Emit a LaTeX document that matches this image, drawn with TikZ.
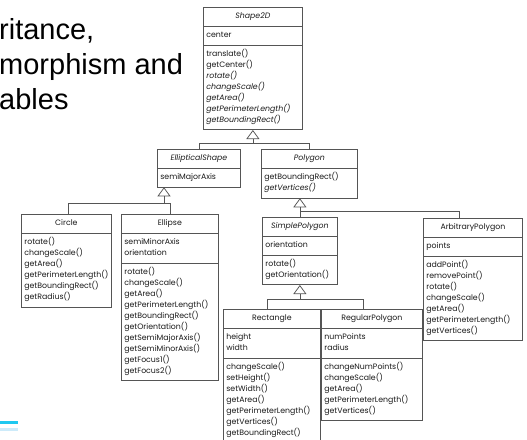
\documentclass[tikz,border=0pt]{standalone}
\usepackage{fontspec}
\setmainfont{Liberation Sans}
\newfontfamily\umlfont{Poppins}
\usetikzlibrary{shapes.multipart,arrows.meta}

\definecolor{linegray}{HTML}{555555}
\definecolor{umltext}{HTML}{1A1A1A}
\definecolor{barblue}{HTML}{1EC8F0}
\definecolor{barpale}{HTML}{CDEBFA}

\tikzset{
  umlclass/.style={draw=linegray, line width=.75pt, fill=white,
    rectangle split, rectangle split parts=#1,
    rectangle split part align={center,left,left},
    anchor=north west, inner xsep=3pt, inner ysep=3.5pt,
    font=\umlfont\fontsize{7.8}{11}\selectfont, text=umltext, align=left},
  conn/.style={draw=linegray, line width=.75pt},
  inh/.style={conn, -{Triangle[open, width=13pt, length=9pt]}}
}

\begin{document}
\begin{tikzpicture}[x=1pt,y=-1pt]
  \useasboundingbox (0,0) rectangle (527,439);
  % slide title, cut off at the left
  \foreach \y/\txt [count=\i] in {39/{ritance,},74/{morphism and},109/{ables}} {
    \node[anchor=base west, inner sep=0, font=\fontsize{29}{34}\selectfont] (title\i) at (-1,\y) {\txt};
  }
  \fill[barblue] (0,421) rectangle (18,424);
  \fill[barpale] (0,428) rectangle (18,431);

  % classes
  \node[umlclass=3, minimum width=99pt] (shape) at (203,7)
    {\strut\textit{Shape2D}\strut
     \nodepart{two}\strut center\strut
     \nodepart{three}\strut translate()\\getCenter()\\\textit{rotate()}\\\textit{changeScale()}\\\textit{getArea()}\\\textit{getPerimeterLength()}\\\textit{getBoundingRect()}\strut};
  \node[umlclass=2, minimum width=83pt] (elliptical) at (157,149)
    {\strut\textit{EllipticalShape}\strut
     \nodepart{two}\strut semiMajorAxis\strut};
  \node[umlclass=2, minimum width=96pt] (polygon) at (261,149)
    {\strut\textit{Polygon}\strut
     \nodepart{two}\strut getBoundingRect()\\\textit{getVertices()}\strut};
  \node[umlclass=2, minimum width=86pt] (circle) at (21,214)
    {\strut Circle\strut
     \nodepart{two}\strut rotate()\\changeScale()\\getArea()\\getPerimeterLength()\\getBoundingRect()\\getRadius()\strut};
  \node[umlclass=3, minimum width=97pt] (ellipse) at (121,214)
    {\strut Ellipse\strut
     \nodepart{two}\strut semiMinorAxis\\orientation\strut
     \nodepart{three}\strut rotate()\\changeScale()\\getArea()\\getPerimeterLength()\\getBoundingRect()\\getOrientation()\\getSemiMajorAxis()\\getSemiMinorAxis()\\getFocus1()\\getFocus2()\strut};
  \node[umlclass=3, minimum width=75pt] (simple) at (262,217)
    {\strut\textit{SimplePolygon}\strut
     \nodepart{two}\strut orientation\strut
     \nodepart{three}\strut rotate()\\getOrientation()\strut};
  \node[umlclass=3, minimum width=99pt] (arbitrary) at (423,218)
    {\strut ArbitraryPolygon\strut
     \nodepart{two}\strut points\strut
     \nodepart{three}\strut addPoint()\\removePoint()\\rotate()\\changeScale()\\getArea()\\getPerimeterLength()\\getVertices()\strut};
  \node[umlclass=3, minimum width=97pt] (rectangle) at (223,309)
    {\strut Rectangle\strut
     \nodepart{two}\strut height\\width\strut
     \nodepart{three}\strut changeScale()\\setHeight()\\setWidth()\\getArea()\\getPerimeterLength()\\getVertices()\\getBoundingRect()\strut};
  \node[umlclass=3, minimum width=101pt] (regular) at (321,309)
    {\strut RegularPolygon\strut
     \nodepart{two}\strut numPoints\\radius\strut
     \nodepart{three}\strut changeNumPoints()\\changeScale()\\getArea()\\getPerimeterLength()\\getVertices()\strut};

  % inheritance
  \draw[inh] (elliptical.north) |- (shape.south |- 0,143) -- (shape.south);
  \draw[conn] (polygon.north) |- (shape.south |- 0,143);

  \coordinate (es) at ([xshift=7pt]elliptical.south west);
  \draw[inh] ([xshift=47pt]circle.north west) |- (es |- 0,203) -- (es);
  \draw[conn] (ellipse.north) |- (es |- 0,203);

  \coordinate (ps) at (simple.north |- polygon.south);
  \draw[inh] (simple.north) -- (ps);
  \draw[conn] ([xshift=36pt]arbitrary.north west) |- (ps |- 0,211);

  \draw[inh] ([xshift=44pt]rectangle.north west) |- (simple.south |- 0,299) -- (simple.south);
  \draw[conn] ([xshift=42pt]regular.north west) |- (simple.south |- 0,299);
\end{tikzpicture}
\end{document}
